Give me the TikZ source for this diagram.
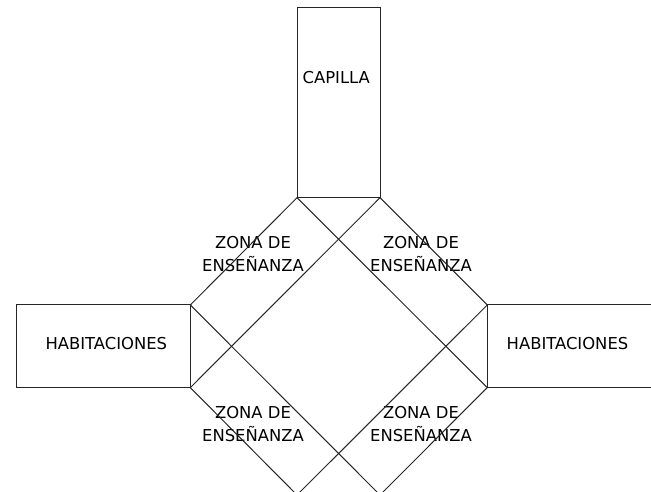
\documentclass[tikz,border=0pt]{standalone}
\usepackage{fontspec}
\setmainfont{DejaVu Sans}
\usetikzlibrary{positioning}
\tikzset{>=latex}
\tikzstyle{sala} = [rectangle, draw=black!85, line width=0.75pt, inner sep=0pt, outer sep=0pt]
\tikzstyle{rotulo} = [rectangle, draw=none, align=center, inner sep=0pt, font=\fontsize{12.3}{17.8}\selectfont]

\begin{document}
\begin{tikzpicture}[x=0.75pt, y=-0.75pt]
\useasboundingbox (0, 0) rectangle (651, 492);
\clip (0, 0) rectangle (651, 492);
\node [sala, minimum width=62.25pt, minimum height=142.65pt] (capilla) at (338.5, 102.6) {};
\node [sala, minimum width=130.7pt, minimum height=62pt] (habizq) at (103.2, 346.3) {};
\node [sala, minimum width=130.7pt, minimum height=62pt] (habder) at (574.4, 346.3) {};
\coordinate (pieizq) at (297, 495);
\coordinate (pieder) at (380, 495);

\node [rotulo] (tcapilla) at (336.3, 77.3) {CAPILLA};
\node [rotulo] (thabizq) at (106.3, 343.3) {HABITACIONES};
\node [rotulo] (thabder) at (567.5, 343.3) {HABITACIONES};
\node [rotulo] (zona1) at (253, 254) {ZONA DE\\ENSEÑANZA};
\node [rotulo] (zona2) at (421, 254) {ZONA DE\\ENSEÑANZA};
\node [rotulo] (zona3) at (253, 424) {ZONA DE\\ENSEÑANZA};
\node [rotulo] (zona4) at (421, 424) {ZONA DE\\ENSEÑANZA};

\draw [-, draw=black!85, line width=0.75pt] (capilla.south west) to (habizq.north east);
\draw [-, draw=black!85, line width=0.75pt] (capilla.south west) to (habder.south west);
\draw [-, draw=black!85, line width=0.75pt] (capilla.south east) to (habizq.south east);
\draw [-, draw=black!85, line width=0.75pt] (capilla.south east) to (habder.north west);

\draw [-, draw=black!85, line width=0.75pt] (habizq.north east) to (pieder);
\draw [-, draw=black!85, line width=0.75pt] (habizq.south east) to (pieizq);
\draw [-, draw=black!85, line width=0.75pt] (habder.north west) to (pieizq);
\draw [-, draw=black!85, line width=0.75pt] (habder.south west) to (pieder);
\end{tikzpicture}
\end{document}
